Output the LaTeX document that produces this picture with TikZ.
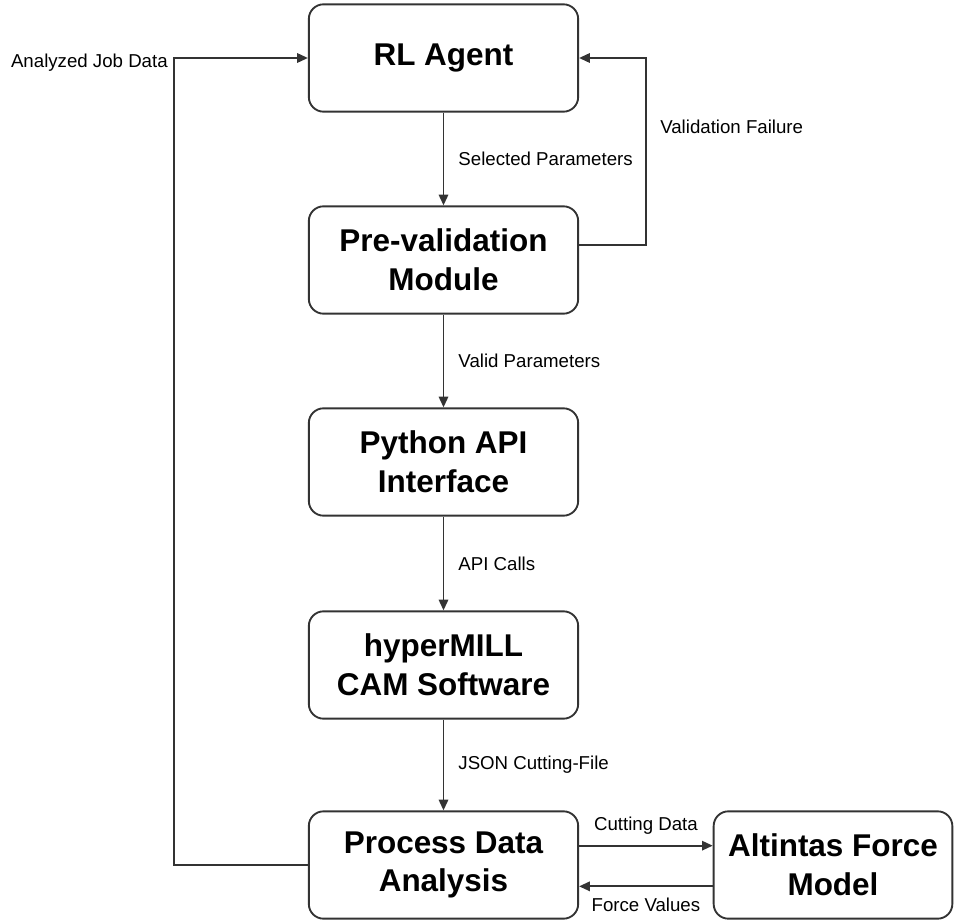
\documentclass[tikz,border=0pt]{standalone}
\usepackage{fontspec}
\setmainfont{Liberation Sans}
\usetikzlibrary{arrows.meta}
\definecolor{linegray}{HTML}{333333}
\begin{document}
\begin{tikzpicture}[x=0.75pt,y=-0.75pt,
  box/.style={draw=linegray,line width=1.4pt,rounded corners=11pt,fill=white,
    minimum width=202pt,minimum height=80.5pt,align=center,
    font=\fontsize{23.6}{29}\selectfont\bfseries},
  flow/.style={draw=linegray,line width=1.4pt,-{Triangle[length=8pt,width=7pt]}},
  lbl/.style={font=\fontsize{14}{17}\selectfont,inner sep=0pt}]
\useasboundingbox (0,0) rectangle (954,920);
\node[box] (rl) at (443.5,58) {RL Agent};
\node[box] (pre) at (443.5,260) {Pre-validation\\Module};
\node[box] (api) at (443.5,462) {Python API\\Interface};
\node[box] (cam) at (443.5,665) {hyperMILL\\CAM Software};
\node[box] (pda) at (443.5,865) {Process Data\\Analysis};
\node[box,minimum width=179pt] (atm) at (833,865) {Altintas Force\\Model};
\coordinate (vf) at (646,245);
\coordinate (ajd) at (174,58);
\draw[flow] (rl) -- (pre) node[lbl,midway,right=10.5pt] {Selected Parameters};
\draw[flow] (pre) -- (api) node[lbl,midway,right=10.5pt] {Valid Parameters};
\draw[flow] (api) -- (cam) node[lbl,midway,right=10.5pt] {API Calls};
\draw[flow] (cam) -- (pda) node[lbl,midway,right=10.5pt] {JSON Cutting-File};
\draw[flow] ([yshift=11.25pt]pre.east) -- (vf) |- (rl.east);
\node[lbl,anchor=west] (vflbl) at (660,127) {Validation Failure};
\draw[flow] (pda.west) -| (ajd) -- (rl.west);
\node[lbl,anchor=east] (ajlbl) at (168,63) {Analyzed Job Data};
\draw[flow] ([yshift=14.5pt]pda.east) -- ([yshift=14.5pt]atm.west)
  node[lbl,midway,above=8pt] {Cutting Data};
\draw[flow] ([yshift=-16pt]atm.west) -- ([yshift=-16pt]pda.east)
  node[lbl,midway,below=8pt] {Force Values};
\end{tikzpicture}
\end{document}
